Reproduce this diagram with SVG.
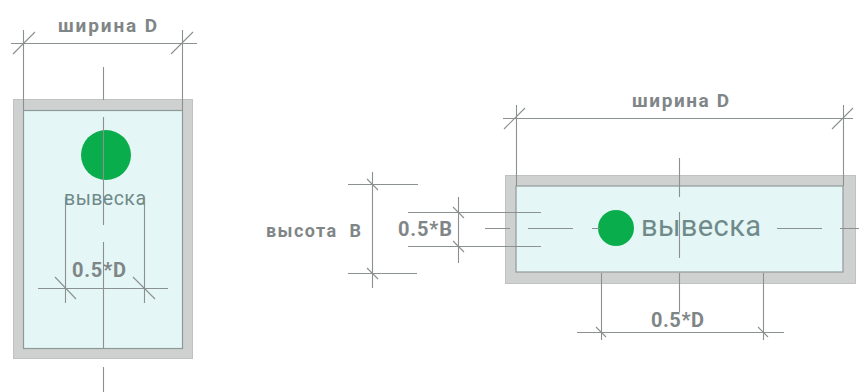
<svg xmlns="http://www.w3.org/2000/svg" width="859" height="392" viewBox="0 0 859 392">
<style>
.frame{fill:#cfd1d1;stroke:#bfc2c2;stroke-width:1}
.glass{fill:#e4f6f5;stroke:#8f9a98;stroke-width:1.200}
.dot{fill:#0aad4b}
.dim{fill:none;stroke:#8b9191;stroke-width:1.100}
.t{font-family:"Roboto","Liberation Sans",sans-serif;fill:#808687;font-weight:700}
.s{font-family:"Roboto","Liberation Sans",sans-serif;fill:#6f8a89;font-weight:400}
</style>
<rect width="859" height="392" fill="#fff"/>
<g id="sign-vertical">
<rect class="frame" x="13.500" y="99.500" width="179" height="259"/>
<rect class="glass" x="23.500" y="110.500" width="159" height="238"/>
<circle class="dot" cx="106" cy="155" r="25"/>
<text class="s" x="64" y="205" font-size="19.500" textLength="82" lengthAdjust="spacing">вывеска</text>
</g>
<g id="sign-horizontal">
<rect class="frame" x="505.500" y="175.500" width="350" height="108"/>
<rect class="glass" x="516" y="186" width="327" height="86"/>
<circle class="dot" cx="616" cy="228" r="18"/>
<text class="s" x="641" y="236" font-size="29" textLength="120" lengthAdjust="spacing">вывеска</text>
</g>
<g id="connectors">
<path class="dim" d="M11 43.500H197M23.500 30V110M182.500 30V110M13 54L35 32M171 54L193 32"/>
<path class="dim" d="M103.500 67V100M103.500 117V225M103.500 242V348M103.500 367V392"/>
<path class="dim" d="M65.500 197V303M144.500 197V303M38 288.500H168M55 277L76 299M133 277L155 299"/>
<path class="dim" d="M503 118.500H853M516.500 105V186M843.500 105V186M504 129L525 108M832 129L853 108"/>
<path class="dim" d="M679.500 158V197M679.500 212V258M679.500 273V312"/>
<path class="dim" d="M485 228.500H510M528 228.500H573M592 228.500H600M777 228.500H822M840 228.500H859"/>
<path class="dim" d="M601.500 273V340M763.500 273V340M577 332.500H784M596 327L606 337M758 327L768 337"/>
<path class="dim" d="M372.500 172V288M348 184.500H418M348 273.500H417M367 179L378 190M367 268L378 279"/>
<path class="dim" d="M458.500 197V263M408 212.500H541M408 246.500H541M453 207L464 218M453 241L464 252"/>
</g>
<g id="labels">
<text class="t" x="58" y="32" font-size="19" textLength="99" lengthAdjust="spacing">ширина D</text>
<text class="t" x="72" y="277" font-size="20" textLength="54" lengthAdjust="spacing">0.5*D</text>
<text class="t" x="632" y="107" font-size="19" textLength="97" lengthAdjust="spacing">ширина D</text>
<text class="t" x="651" y="327" font-size="20" textLength="53" lengthAdjust="spacing">0.5*D</text>
<text class="t" x="266" y="237" font-size="18" textLength="95" lengthAdjust="spacing" xml:space="preserve">высота  B</text>
<text class="t" x="398" y="236" font-size="20" textLength="54" lengthAdjust="spacing">0.5*B</text>
</g>
</svg>
